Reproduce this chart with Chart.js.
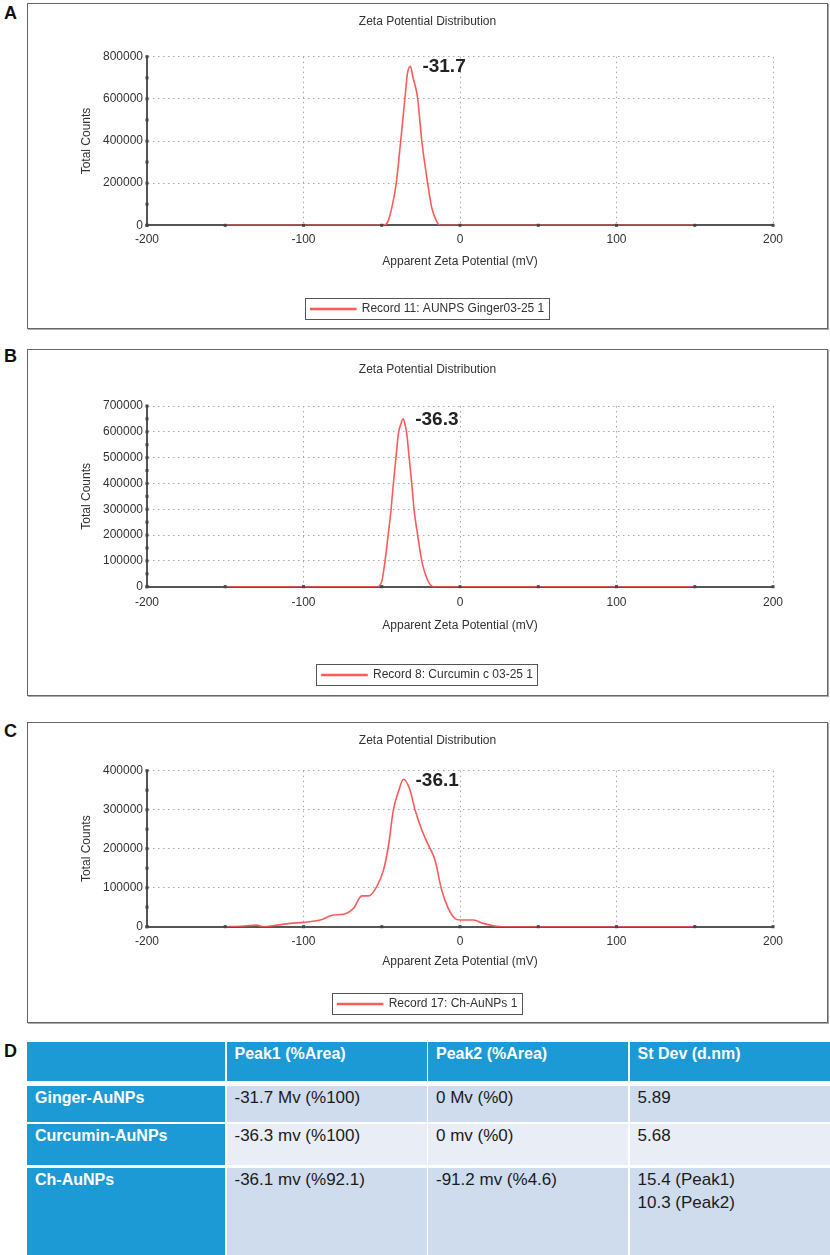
<!DOCTYPE html>
<html>
<head>
<meta charset="utf-8">
<script src="https://cdn.jsdelivr.net/npm/chart.js@4.4.1/dist/chart.umd.min.js"></script>
<style>
  html, body { margin: 0; padding: 0; background: #fff; }
  body { position: relative; width: 830px; height: 1255px; overflow: hidden; font-family: 'Liberation Sans', Arial, sans-serif; }
  .tag { position: absolute; left: 4px; font: bold 18px 'Liberation Sans', Arial, sans-serif; color: #111; line-height: 20px; }
  .frame { position: absolute; left: 27px; width: 799px; border: 1px solid #666; box-shadow: 1px 1px 0 #aaa; background: #fff; }
  .frame canvas { display: block; }
  .tbl { position: absolute; left: 27px; top: 1042px; width: 803px; display: grid;
         grid-template-columns: 198px 200px 200px 201px; column-gap: 1.5px;
         grid-template-rows: 39px 38px 41px 90px; row-gap: 2.5px;
         font-family: 'Liberation Sans Narrow', 'Liberation Sans', Arial, sans-serif; font-size: 17px; }
  .tbl div { padding: 0 8px 0 8px; line-height: 23px; color: #1b1b1b; }
  .tbl .hd { background: #1b9ad6; color: #fff; font-weight: bold; font-size: 16px; }
  .tbl .r1 { background: #cfdcee; }
  .tbl .r2 { background: #e8edf6; }
  .tbl .r3 { background: #cfdcee; }
  .tbl .gap { margin-top: 2.5px; }
</style>
</head>
<body>
<div class="tag" style="top:3px">A</div>
<div class="tag" style="top:346px">B</div>
<div class="tag" style="top:721px">C</div>
<div class="tag" style="top:1041px">D</div>

<div class="frame" style="top:3px;height:324px"><canvas id="chartA" width="799" height="324"></canvas></div>
<div class="frame" style="top:349px;height:345px"><canvas id="chartB" width="799" height="345"></canvas></div>
<div class="frame" style="top:722px;height:299px"><canvas id="chartC" width="799" height="299"></canvas></div>

<div class="tbl">
  <div class="hd"></div>
  <div class="hd">Peak1 (%Area)</div>
  <div class="hd">Peak2 (%Area)</div>
  <div class="hd">St Dev (d.nm)</div>
  <div class="hd gap">Ginger-AuNPs</div>
  <div class="r1 gap">-31.7 Mv (%100)</div>
  <div class="r1 gap">0 Mv (%0)</div>
  <div class="r1 gap">5.89</div>
  <div class="hd">Curcumin-AuNPs</div>
  <div class="r2">-36.3 mv (%100)</div>
  <div class="r2">0 mv (%0)</div>
  <div class="r2">5.68</div>
  <div class="hd">Ch-AuNPs</div>
  <div class="r3">-36.1 mv (%92.1)</div>
  <div class="r3">-91.2 mv (%4.6)</div>
  <div class="r3">15.4 (Peak1)<br>10.3 (Peak2)</div>
</div>

<script>
// zeta potential (mV) and total counts
const potA = [-150, -49, -46, -43.6, -40.8, -37.9, -35.1, -33.6, -31.7, -30, -27.2, -24.4, -20.6, -18.1, -15, -12.8, 150];
const countsA = [0, 0, 20000, 83000, 196000, 400000, 610000, 720000, 755000, 700000, 610000, 400000, 196000, 85000, 20000, 0, 0];

const potB = [-150, -53, -50, -47.9, -45.8, -44, -42.6, -41, -39.4, -37.8, -36.3, -35, -34, -32.4, -30.8, -29.4, -27.2, -24.4, -21, -17, 150];
const countsB = [0, 0, 20000, 100000, 205000, 302000, 398000, 495000, 592000, 630000, 650000, 625000, 592000, 495000, 398000, 302000, 205000, 100000, 30000, 0, 0];

const potC = [-150, -140, -130, -125.5, -117, -108.5, -100, -89.3, -80.9, -74.5, -68.1, -62.7, -58.5, -53.2, -48.9, -45.8, -42.6, -39.4, -36.1, -31.9, -28.7, -24.4, -20.2, -16, -11.7, -7.5, -3.2, 0, 8.5, 14.9, 22, 28, 150];
const countsC = [0, 1000, 4000, 0, 4000, 8500, 11000, 17000, 30000, 32000, 47000, 79000, 79000, 103000, 145000, 205000, 299000, 346000, 378000, 350000, 299000, 248000, 209000, 171000, 94000, 47000, 21000, 17000, 17000, 8500, 2000, 0, 0];

const recordNames = ['Record 11: AUNPS Ginger03-25 1', 'Record 8: Curcumin c 03-25 1', 'Record 17: Ch-AuNPs 1'];
const peakLabels = ['-31.7', '-36.3', '-36.1'];
const yMax = [800000, 700000, 400000];
const yMajor = [200000, 100000, 100000];
const yMinor = [100000, 50000, 50000];
const xTicks = { min: -200, max: 200, step: 50, labelEvery: 100 };

Chart.defaults.font.family = "'Liberation Sans', Arial, sans-serif";
Chart.defaults.font.size = 12;
Chart.defaults.color = '#333';

const RED = '#ff5a5a';
const GRID = '#a8a8a8';

// axis dots, peak value and a frame round the legend
const decor = {
  id: 'decor',
  afterDraw(chart, args, opts) {
    const { ctx } = chart;
    const x = chart.scales.x, y = chart.scales.y;
    ctx.save();
    ctx.fillStyle = '#444';
    x.ticks.forEach(t => {
      ctx.fillRect(x.getPixelForValue(t.value) - 1.5, y.bottom - 1.5, 3, 3);
    });
    y.ticks.forEach(t => {
      ctx.fillRect(x.left - 1.5, y.getPixelForValue(t.value) - 1.5, 3, 3);
    });

    const data = chart.data.datasets[0].data;
    let top = data[0];
    data.forEach(p => { if (p.y > top.y) top = p; });
    ctx.font = "bold 19px 'Liberation Sans Narrow', 'Liberation Sans', Arial, sans-serif";
    ctx.fillStyle = '#222';
    ctx.textBaseline = 'middle';
    ctx.textAlign = 'left';
    ctx.fillText(opts.label, x.getPixelForValue(top.x) + 12, y.getPixelForValue(top.y) + 1);

    const hb = chart.legend.legendHitBoxes[0];
    if (hb) {
      ctx.strokeStyle = '#555';
      ctx.lineWidth = 1;
      ctx.strokeRect(Math.round(hb.left - 6) + 0.5, Math.round(hb.top - 5) + 0.5, Math.round(hb.width + 10), Math.round(hb.height + 9));
    }
    ctx.restore();
  }
};

function makeChart(id, pot, counts, i, lay) {
  const pts = pot.map((v, k) => ({ x: v, y: counts[k] }));
  return new Chart(document.getElementById(id), {
    type: 'line',
    data: {
      datasets: [{
        label: recordNames[i],
        data: pts,
        borderColor: RED,
        backgroundColor: RED,
        borderWidth: 1.6,
        pointRadius: 0,
        cubicInterpolationMode: 'monotone',
        fill: false
      }]
    },
    options: {
      responsive: false,
      animation: false,
      layout: { padding: { left: 0, top: 0, right: 0, bottom: lay.padBottom } },
      plugins: {
        title: {
          display: true,
          text: 'Zeta Potential Distribution',
          color: '#333',
          font: { size: 12, weight: 'normal' },
          padding: { top: lay.titleTop, bottom: lay.titleBottom }
        },
        legend: {
          position: 'bottom',
          labels: { boxWidth: 45, boxHeight: 1, padding: lay.legendPad, color: '#333', font: { size: 12 } }
        },
        tooltip: { enabled: false },
        decor: { label: peakLabels[i] }
      },
      scales: {
        x: {
          type: 'linear',
          min: xTicks.min,
          max: xTicks.max,
          afterFit: s => { s.height = 50; },
          ticks: {
            stepSize: xTicks.step,
            autoSkip: false,
            maxRotation: 0,
            padding: lay.xTickPad,
            color: '#333',
            callback: v => (v % xTicks.labelEvery === 0 ? v : '')
          },
          grid: {
            drawTicks: false,
            color: c => (c.tick && c.tick.value % xTicks.labelEvery === 0 ? GRID : 'rgba(0,0,0,0)')
          },
          border: { color: '#555', width: 2, dash: [1.5, 3.5] },
          title: {
            display: true,
            text: 'Apparent Zeta Potential (mV)',
            color: '#333',
            padding: { top: 0, bottom: lay.xTitlePad }
          }
        },
        y: {
          min: 0,
          max: yMax[i],
          afterFit: s => { s.width = 119; },
          ticks: {
            stepSize: yMinor[i],
            autoSkip: false,
            padding: 4,
            color: '#333',
            callback: v => (v % yMajor[i] === 0 ? v : '')
          },
          grid: {
            drawTicks: false,
            color: c => (c.tick && c.tick.value % yMajor[i] === 0 ? GRID : 'rgba(0,0,0,0)')
          },
          border: { color: '#555', width: 2, dash: [1.5, 3.5] },
          title: {
            display: true,
            text: 'Total Counts',
            color: '#333',
            padding: { top: 51.8, bottom: 0 }
          }
        },
        // empty right-hand strip so title and legend stay centred on the frame
        yRight: {
          position: 'right',
          afterFit: s => { s.width = 54; },
          ticks: { display: false },
          grid: { display: false, drawOnChartArea: false },
          border: { display: false }
        }
      }
    },
    plugins: [decor]
  });
}

makeChart('chartA', potA, countsA, 0, { padBottom: 3, titleTop: 10.8, titleBottom: 27.5, legendPad: 27.7, xTickPad: 7.5, xTitlePad: 6.1 });
makeChart('chartB', potB, countsB, 1, { padBottom: 4, titleTop: 12.8, titleBottom: 28.8, legendPad: 32.3, xTickPad: 9.1, xTitlePad: 3.5 });
makeChart('chartC', potC, countsC, 2, { padBottom: 2, titleTop: 10.8, titleBottom: 22.5, legendPad: 21.3, xTickPad: 8.1, xTitlePad: 7.5 });
</script>
</body>
</html>
